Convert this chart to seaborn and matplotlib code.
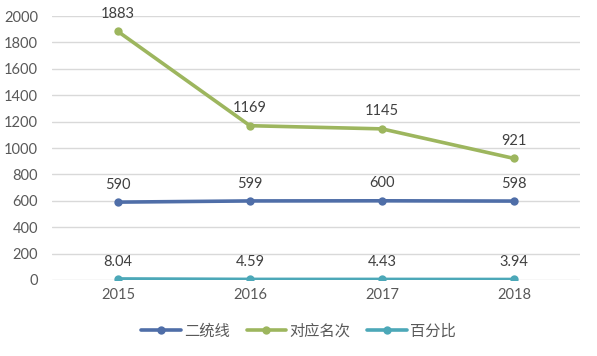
import matplotlib
matplotlib.use("Agg")
import matplotlib.pyplot as plt
import seaborn as sns
import pandas as pd

years = ["2015", "2016", "2017", "2018"]
series_names = ["二统线", "对应名次", "百分比"]
line_2tong = [590, 599, 600, 598]
rank_vals = [1883, 1169, 1145, 921]
pct_vals = [8.04, 4.59, 4.43, 3.94]
label_text = {
    "二统线": ["590", "599", "600", "598"],
    "对应名次": ["1883", "1169", "1145", "921"],
    "百分比": ["8.04", "4.59", "4.43", "3.94"],
}
colors = ["#4F6EA8", "#9DB65E", "#4CA8B8"]

sns.set_theme(style="white")
plt.rcParams["font.family"] = ["Lato", "Noto Sans CJK SC", "DejaVu Sans"]

rows = []
for name, vals in zip(series_names, [line_2tong, rank_vals, pct_vals]):
    for y, v in zip(years, vals):
        rows.append({"year": y, "value": v, "series": name})
df = pd.DataFrame(rows)

fig = plt.figure(figsize=(5.97, 3.56), dpi=100)
ax = fig.add_axes([0.087, 0.2135, 0.8845, 0.7415])

sns.lineplot(data=df, x="year", y="value", hue="series", hue_order=series_names,
             palette=colors, marker="o", markersize=6, markeredgewidth=0,
             linewidth=2.6, ax=ax, sort=False)

ax.set_xlim(-0.5, 3.5)
ax.set_ylim(0, 2000)
ax.set_yticks(range(0, 2001, 200))
ax.grid(axis="y", color="#D9D9D9", linewidth=1)
ax.grid(axis="x", visible=False)
ax.set_axisbelow(True)
for s in ax.spines.values():
    s.set_visible(False)
ax.set_xlabel("")
ax.set_ylabel("")
ax.tick_params(axis="both", length=0, labelsize=10.5, labelcolor="#595959")
ax.tick_params(axis="y", pad=10)
ax.tick_params(axis="x", pad=6)

for name, vals in zip(series_names, [line_2tong, rank_vals, pct_vals]):
    for i, v in enumerate(vals):
        ax.annotate(label_text[name][i], (i, v), xytext=(0, 7.5), textcoords="offset points",
                    ha="center", va="bottom", fontsize=10.5, color="#404040")

handles, labels = ax.get_legend_handles_labels()
ax.legend(handles, labels, loc="center", bbox_to_anchor=(0.5, 0.07),
          bbox_transform=fig.transFigure, ncol=3, frameon=False,
          fontsize=11, labelcolor="#595959", handlelength=2.6,
          columnspacing=1.1, handletextpad=0.2)

fig.savefig("out.png", dpi=100)
